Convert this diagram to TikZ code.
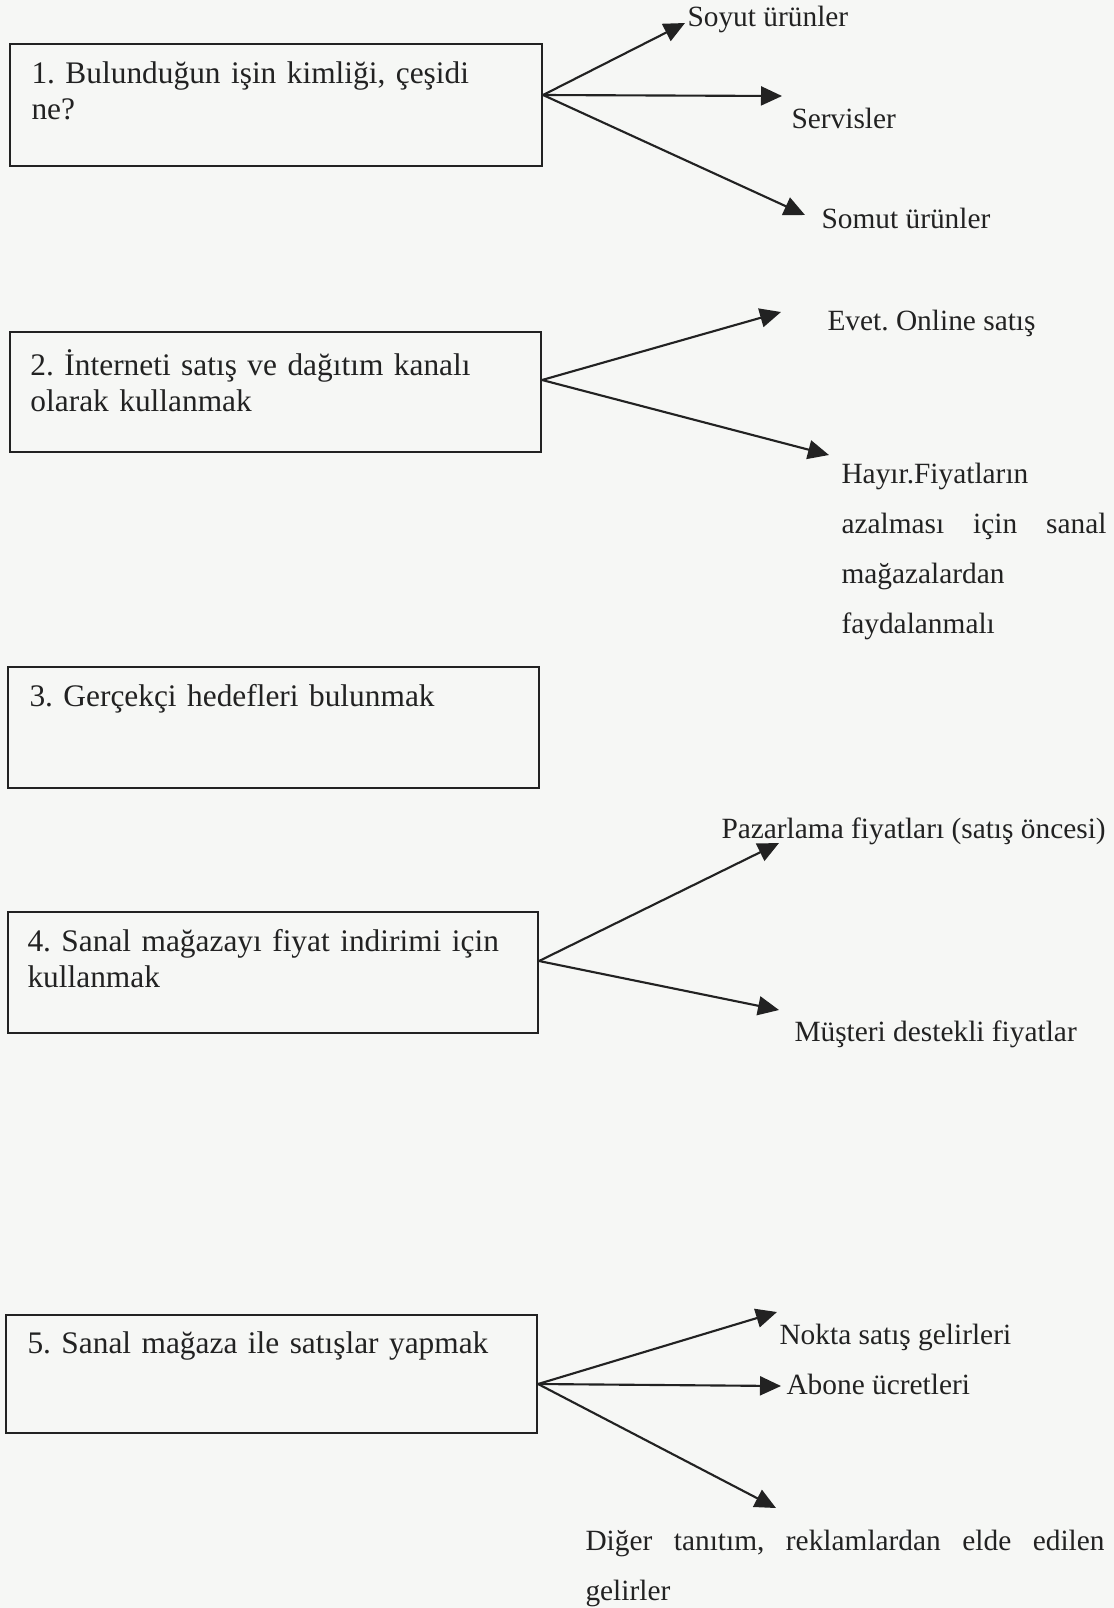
\documentclass[tikz,border=0pt]{standalone}
\usepackage{fontspec}
\setmainfont{Liberation Serif}
\frenchspacing
\usetikzlibrary{arrows.meta,fit}
\definecolor{paper}{RGB}{246,247,245}
\definecolor{ink}{RGB}{34,34,34}
\begin{document}
\begin{tikzpicture}[x=0.4pt,y=-0.4pt,
  box/.style={draw=ink,line width=0.85pt,inner sep=0pt},
  btxt/.style={anchor=base west,inner sep=0pt,text=ink,text width=200pt,align=left,font=\fontsize{12.55}{14.4}\selectfont},
  lbl/.style={anchor=base west,inner sep=0pt,text=ink,font=\fontsize{11.75}{20}\selectfont},
  arr/.style={draw=ink,line width=0.85pt,-{Triangle[length=8.4pt,width=7.6pt]}}]
\fill[paper] (0,0) rectangle (1114,1608);
\useasboundingbox (0,0) rectangle (1114,1608);

% boxes
\node[box,fit={(10,44)(542,166)}] (b1) {};
\node[btxt] (t1) at (31,83) {1. Bulunduğun işin kimliği, çeşidi\\ne?};
\node[box,fit={(10,332)(541,452)}] (b2) {};
\node[btxt] (t2) at (30,375) {2. İnterneti satış ve dağıtım kanalı\\olarak kullanmak};
\node[box,fit={(8,667)(539,788)}] (b3) {};
\node[btxt] (t3) at (29,706) {3. Gerçekçi hedefleri bulunmak};
\node[box,fit={(8,912)(538,1033)}] (b4) {};
\node[btxt] (t4) at (27,951) {4. Sanal mağazayı fiyat indirimi için\\kullanmak};
\node[box,fit={(6,1315)(537,1433)}] (b5) {};
\node[btxt] (t5) at (27,1353) {5. Sanal mağaza ile satışlar yapmak};

% labels
\node[lbl] (l11) at (687,26) {Soyut ürünler};
\node[lbl] (l12) at (791,128) {Servisler};
\node[lbl] (l13) at (821,228) {Somut ürünler};
\node[lbl] (l21) at (827,330) {Evet. Online satış};
\node[lbl,text width=106pt,align=left] (l22) at (841,483) {Hayır.Fiyatların\\\makebox[106pt][l]{azalması\hfill için\hfill sanal}\\mağazalardan\\faydalanmalı};
\node[lbl] (l41) at (721,838) {Pazarlama fiyatları (satış öncesi)};
\node[lbl] (l42) at (794,1041) {Müşteri destekli fiyatlar};
\node[lbl] (l51) at (779,1344) {Nokta satış gelirleri};
\node[lbl] (l52) at (786,1394) {Abone ücretleri};
\node[lbl,text width=207.6pt,align=left] (l53) at (585,1550) {\makebox[207.6pt][l]{Diğer\hfill tanıtım,\hfill reklamlardan\hfill elde\hfill edilen}\\gelirler};

% arrow tips
\coordinate (e11) at (685,23);
\coordinate (e12) at (782,96);
\coordinate (e13) at (805,215);
\coordinate (e21) at (781,312);
\coordinate (e22) at (829,455);
\coordinate (e41) at (779,843);
\coordinate (e42) at (779,1010);
\coordinate (e51) at (777,1312);
\coordinate (e52) at (781,1386);
\coordinate (e53) at (776,1508);

% connectors
\draw[arr] ([yshift=4pt]b1.east) -- (e11);
\draw[arr] ([yshift=4pt]b1.east) -- (e12);
\draw[arr] ([yshift=4pt]b1.east) -- (e13);
\draw[arr] ([yshift=4.8pt]b2.east) -- (e21);
\draw[arr] ([yshift=4.8pt]b2.east) -- (e22);
\draw[arr] ([yshift=4.6pt]b4.east) -- (e41);
\draw[arr] ([yshift=4.6pt]b4.east) -- (e42);
\draw[arr] ([yshift=-4pt]b5.east) -- (e51);
\draw[arr] ([yshift=-4pt]b5.east) -- (e52);
\draw[arr] ([yshift=-4pt]b5.east) -- (e53);
\end{tikzpicture}
\end{document}
